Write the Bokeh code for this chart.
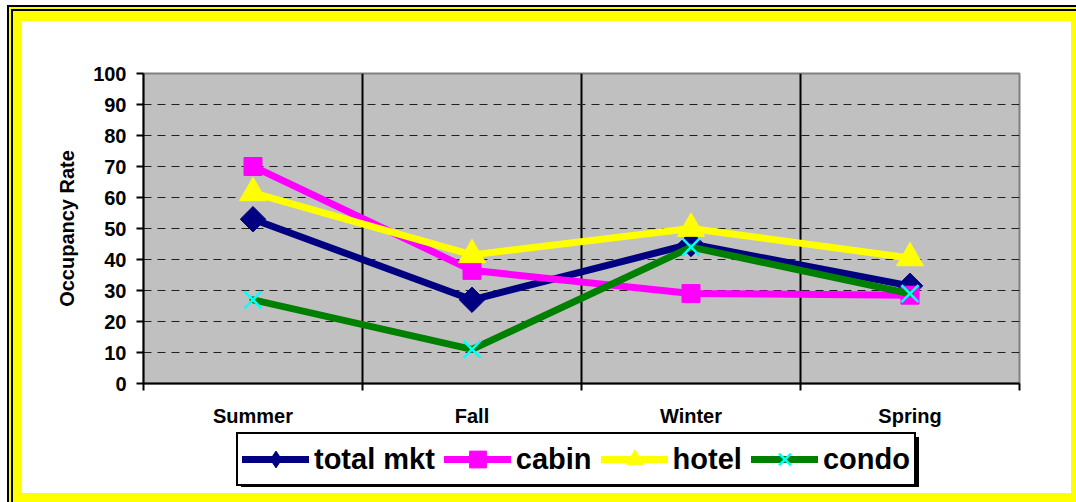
import math
from bokeh.plotting import figure
from bokeh.layouts import column
from bokeh.models import (Range1d, FixedTicker, CustomJSTickFormatter, Legend, LegendItem,
                          ColumnDataSource)
from bokeh.embed import file_html
from bokeh.resources import INLINE

# ---- data ----
seasons = ["Summer", "Fall", "Winter", "Spring"]
total_mkt = [53, 27, 45, 31.5]
cabin = [70, 36.5, 29, 28.5]
hotel = [61.5, 41.5, 50, 40.5]
condo = [27, 11, 44, 29]
y_ticks = list(range(0, 101, 10))
series_names = ["total mkt", "cabin", "hotel", "condo"]

FONT = "Liberation Sans"
xs = [i + 0.5 for i in range(len(seasons))]

p = figure(frame_width=876, frame_height=310,
           min_border_left=136, min_border_right=57, min_border_top=68, min_border_bottom=42,
           x_range=Range1d(0, len(seasons)), y_range=Range1d(0, 100),
           output_backend="svg", toolbar_location=None,
           background_fill_color="#C0C0C0", border_fill_color=None)

p.outline_line_color = "#808080"
p.outline_line_width = 2

# x axis
xa = p.xaxis[0]
xa.ticker = FixedTicker(ticks=xs, minor_ticks=list(range(len(seasons) + 1)))
xa.formatter = CustomJSTickFormatter(args=dict(names=seasons), code="return names[Math.floor(tick)];")
xa.major_tick_in = 0
xa.major_tick_out = 0
xa.minor_tick_in = 0
xa.minor_tick_out = 7
xa.minor_tick_line_color = "black"
xa.minor_tick_line_width = 2
xa.axis_line_color = "black"
xa.axis_line_width = 2
xa.major_label_text_font = FONT
xa.major_label_text_font_style = "bold"
xa.major_label_text_font_size = "20px"
xa.major_label_text_color = "black"
xa.major_label_standoff = 14

# y axis
ya = p.yaxis[0]
ya.ticker = FixedTicker(ticks=y_ticks)
ya.major_tick_in = 0
ya.major_tick_out = 7
ya.major_tick_line_width = 2
ya.major_tick_line_color = "black"
ya.axis_line_color = "black"
ya.axis_line_width = 2
ya.major_label_text_font = FONT
ya.major_label_text_font_style = "bold"
ya.major_label_text_font_size = "20px"
ya.major_label_text_color = "black"
ya.major_label_standoff = 10
ya.axis_label = "Occupancy Rate"
ya.axis_label_text_font = FONT
ya.axis_label_text_font_style = "bold"
ya.axis_label_text_font_size = "20px"
ya.axis_label_text_color = "black"
ya.axis_label_standoff = 12

# grids
p.xgrid.ticker = FixedTicker(ticks=list(range(1, len(seasons))))
p.xgrid.grid_line_color = "black"
p.xgrid.grid_line_width = 2
p.ygrid.ticker = FixedTicker(ticks=y_ticks[1:-1])
p.ygrid.grid_line_color = "#202020"
p.ygrid.grid_line_width = 1
p.ygrid.grid_line_dash = "8 6"

# (values, line colour, marker, legend-key marker, marker colour, size, angle, marker line width)
styles = [
    (total_mkt, "#000080", "square", "diamond", "#000080", 18, math.pi / 4, 1),
    (cabin, "#FF00FF", "square", "square", "#FF00FF", 18, 0, 1),
    (hotel, "#FFFF00", "triangle", "triangle", "#FFFF00", 27, 0, 1),
    (condo, "#008000", "x", "x", "#00FFFF", 24, 0, 2.5),
]

# legend strip: a second, axis-less figure (its frame is aligned with the chart's frame)
leg_fig = figure(width=1069, height=77, min_border=0, x_axis_type=None, y_axis_type=None,
                 x_range=Range1d(0, 1), y_range=Range1d(0, 1),
                 output_backend="svg", toolbar_location=None,
                 background_fill_color=None, border_fill_color=None, outline_line_color=None)

items = []
for name, (vals, lc, mk, lmk, mc, sz, ang, mlw) in zip(series_names, styles):
    src = ColumnDataSource(dict(x=xs, y=vals))
    line_kw = dict(line_color=lc, line_width=7, line_join="round", line_cap="round")
    p.line("x", "y", source=src, **line_kw)
    p.scatter("x", "y", source=src, marker=mk, size=sz, angle=ang,
              fill_color=mc, line_color=mc, line_width=mlw)
    # same styled glyphs in the legend strip (outside its visible range) for the legend keys
    ll = leg_fig.line("x", "y", source=src, **line_kw)
    ls = leg_fig.scatter("x", "y", source=src, marker=lmk, size=sz,
                         fill_color=mc, line_color=mc, line_width=mlw)
    items.append(LegendItem(label=name, renderers=[ll, ls]))

legend = Legend(items=items, location=(93, 20), orientation="horizontal",
                border_line_color="black", border_line_width=2, border_line_alpha=1,
                background_fill_color="white", background_fill_alpha=1,
                label_text_font=FONT, label_text_font_style="bold",
                label_text_font_size="29px", label_text_color="black",
                glyph_width=67, glyph_height=42, label_standoff=5, spacing=9, padding=4, margin=0)
leg_fig.add_layout(legend, "center")

layout = column(p, leg_fig, spacing=0)
# outer frame: double black line + yellow band (CSS inset shadows),
# plus the black drop shadow of the legend box painted on the background
layout.styles = {
    "margin-left": "7px",
    "margin-top": "5px",
    "background-color": "white",
    "background-image": "linear-gradient(#000000, #000000)",
    "background-repeat": "no-repeat",
    "background-size": "678px 50px",
    "background-position": "234px 432px",
    "box-shadow": ("inset 1px 1px 0 1px #000000, "
                   "inset 2px 2px 0 2px #FFFF00, "
                   "inset 1px -1px 0 1px #000000, "
                   "inset 3px 3px 0 3px #000000, "
                   "inset 5px 6px 0 10px #FFFF00, "
                   "inset 6.5px -6.5px 0 6.5px #FFFF00"),
}

open("out.html", "w").write(file_html(layout, INLINE))
